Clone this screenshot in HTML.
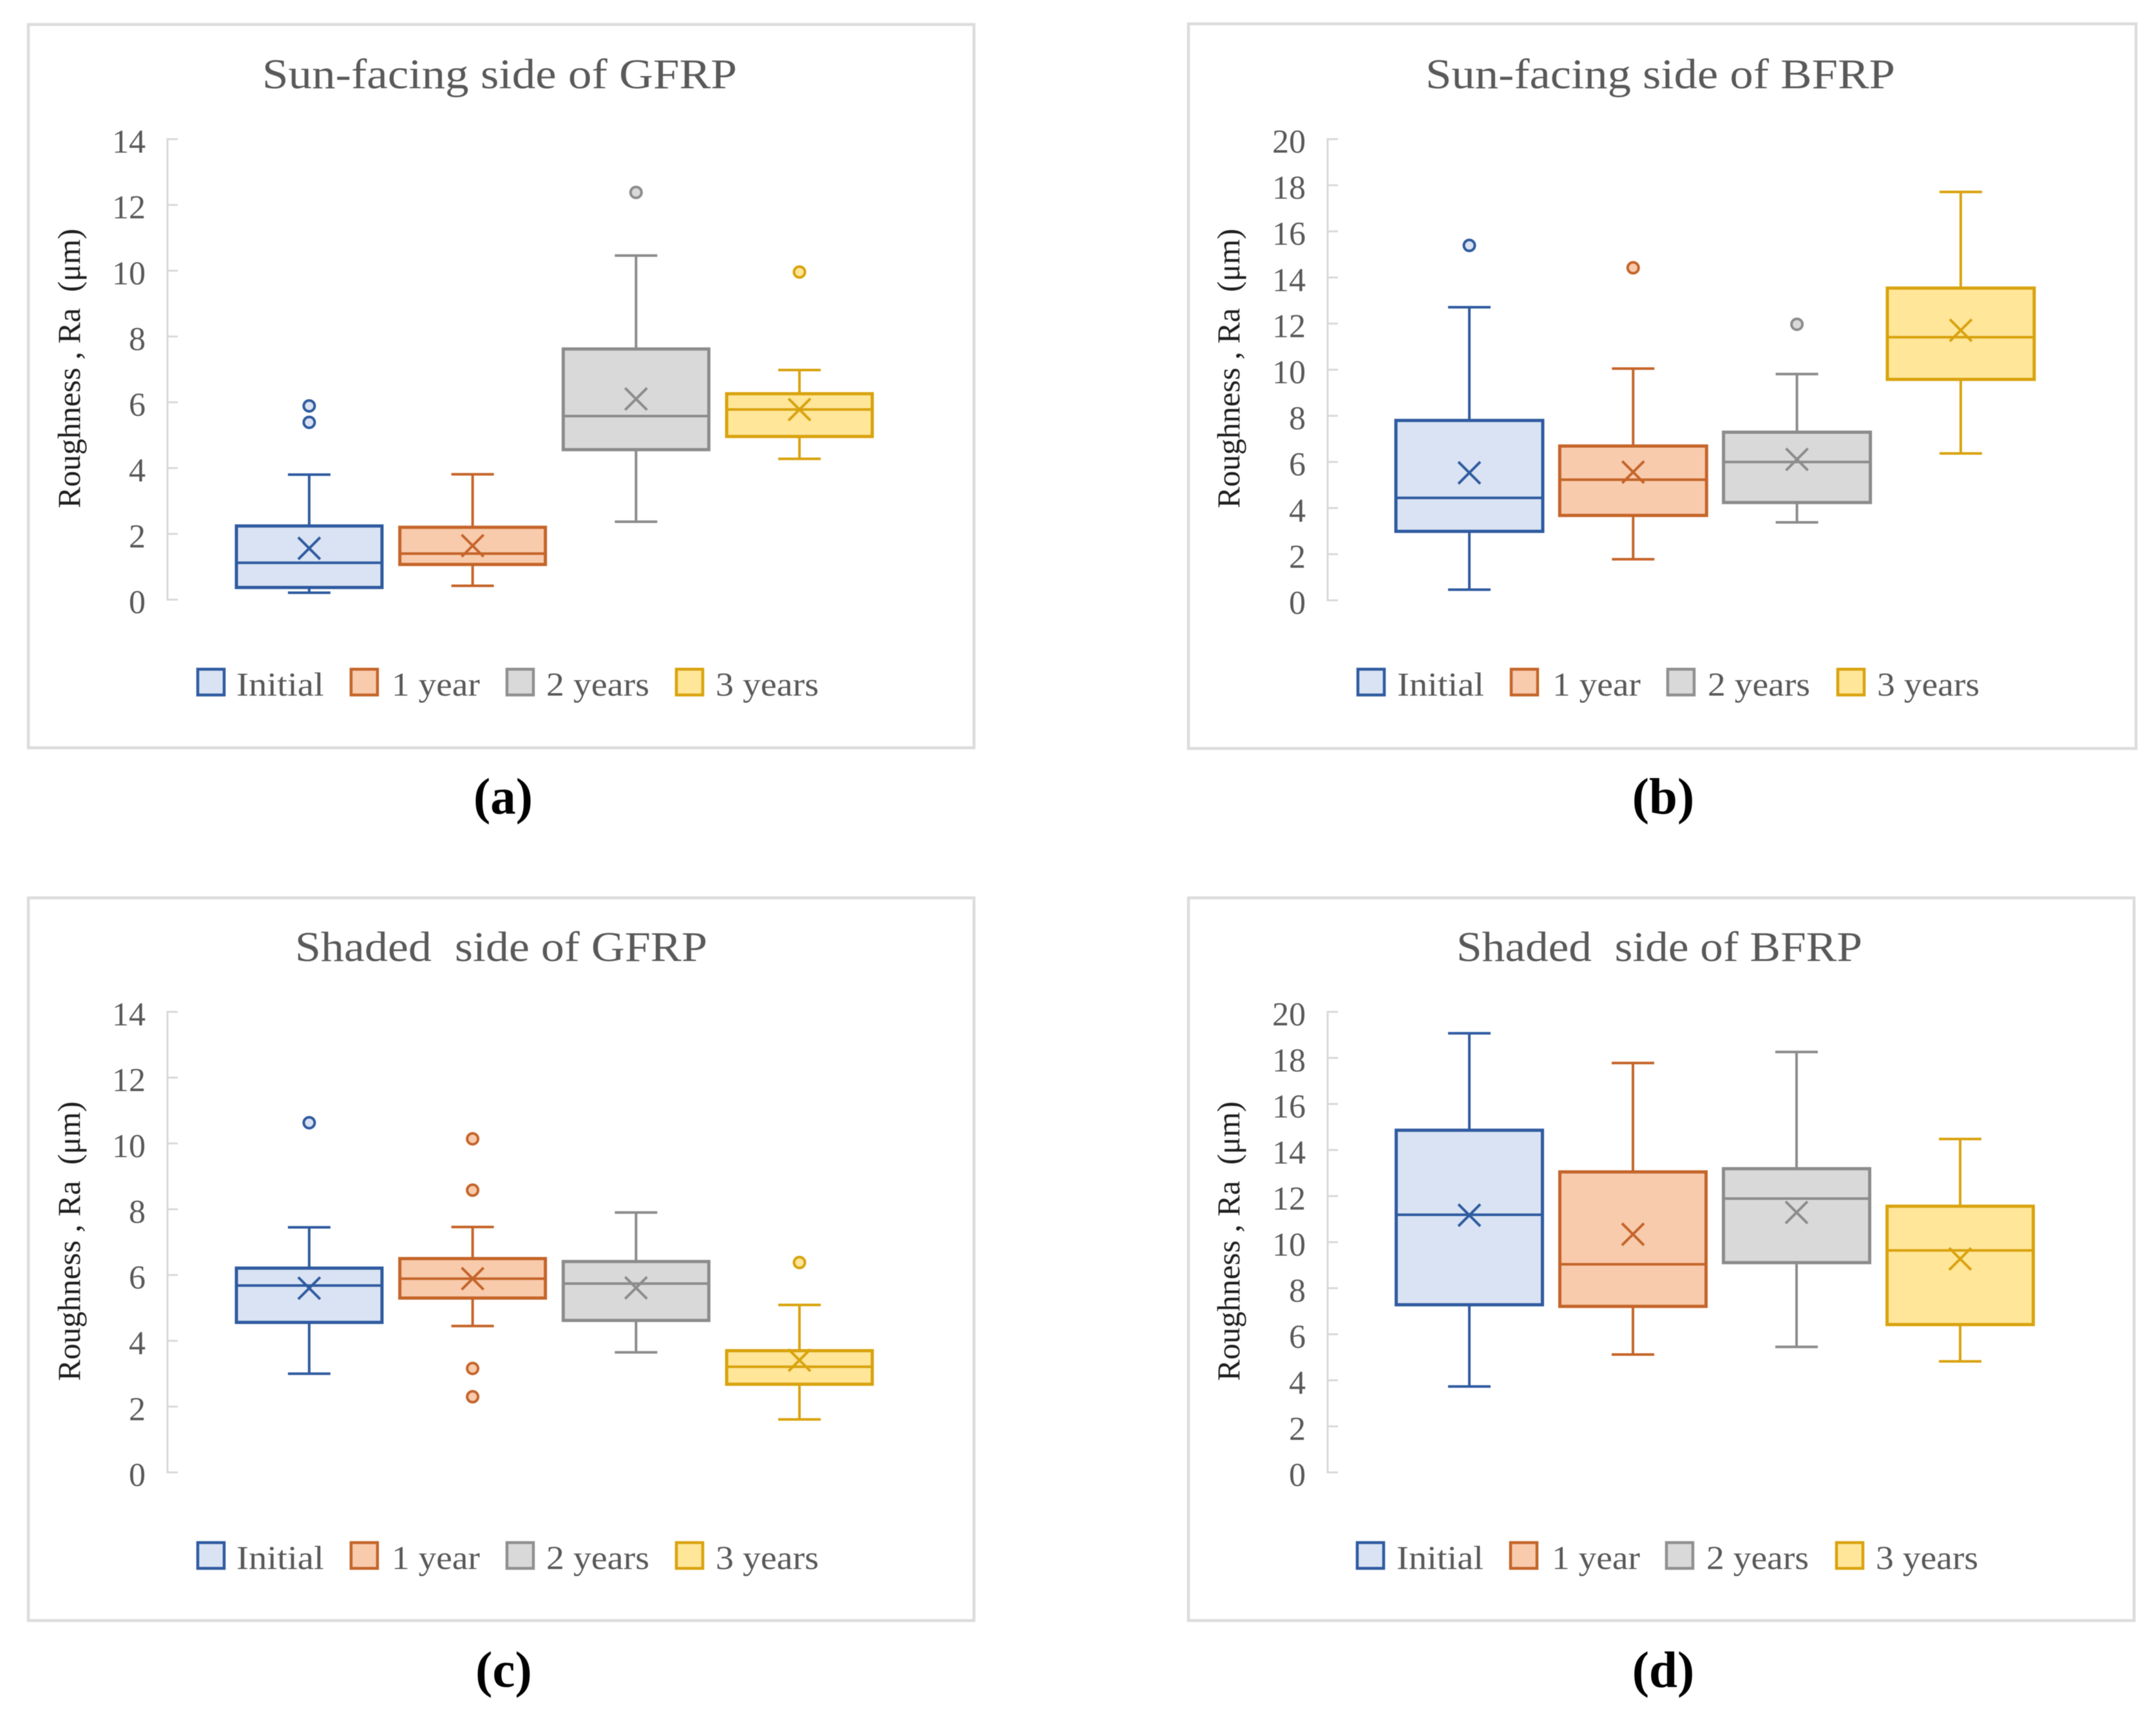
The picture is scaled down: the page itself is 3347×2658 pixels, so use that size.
<!DOCTYPE html>
<html lang="en">
<head>
<meta charset="utf-8">
<title>Surface roughness box plots of GFRP and BFRP</title>
<style>
html,body{margin:0;padding:0;background:#fff;}
svg{display:block;filter:blur(0.6px);}
text{font-family:"Liberation Serif",serif;white-space:pre;}
.title{font-size:66px;fill:#595959;}
.legend{font-size:52px;fill:#595959;}
.axis-title{font-size:50px;fill:#1f1f1f;}
.caption{font-size:79px;font-weight:bold;fill:#000;}
.frame{fill:#fff;stroke:#dcdcdc;stroke-width:4.5;}
.swatch{stroke-width:4.5;}
</style>
</head>
<body>
<svg id="figure" xmlns="http://www.w3.org/2000/svg" width="3347" height="2658" viewBox="0 0 3347 2658">
  <rect x="0" y="0" width="3347" height="2658" fill="#ffffff"/>

  <g id="panel-a">
    <rect class="frame" x="44" y="38" width="1468" height="1123"/>
    <text class="title" x="407" y="137" textLength="737" lengthAdjust="spacingAndGlyphs">Sun-facing side of GFRP</text>
    <text class="axis-title" transform="translate(124,789) rotate(-90)" textLength="434" lengthAdjust="spacingAndGlyphs">Roughness , Ra  (μm)</text>
    <g>
      <rect class="swatch" x="307" y="1039" width="41" height="40" fill="#dae3f3" stroke="#2f5ba0"/>
      <text class="legend" x="367" y="1080" textLength="136" lengthAdjust="spacingAndGlyphs">Initial</text>
      <rect class="swatch" x="545" y="1039" width="41" height="40" fill="#f8cbad" stroke="#c5652a"/>
      <text class="legend" x="608" y="1080" textLength="137" lengthAdjust="spacingAndGlyphs">1 year</text>
      <rect class="swatch" x="787" y="1039" width="41" height="40" fill="#d9d9d9" stroke="#909090"/>
      <text class="legend" x="848" y="1080" textLength="160" lengthAdjust="spacingAndGlyphs">2 years</text>
      <rect class="swatch" x="1050" y="1039" width="41" height="40" fill="#ffe699" stroke="#d9a30f"/>
      <text class="legend" x="1111" y="1080" textLength="160" lengthAdjust="spacingAndGlyphs">3 years</text>
    </g>
    <text class="caption" x="781" y="1263" text-anchor="middle">(a)</text>
  </g>

  <g id="panel-b">
    <rect class="frame" x="1845" y="37" width="1471" height="1125"/>
    <text class="title" x="2213" y="137" textLength="729" lengthAdjust="spacingAndGlyphs">Sun-facing side of BFRP</text>
    <text class="axis-title" transform="translate(1924,789) rotate(-90)" textLength="434" lengthAdjust="spacingAndGlyphs">Roughness , Ra  (μm)</text>
    <g>
      <rect class="swatch" x="2108" y="1039" width="41" height="40" fill="#dae3f3" stroke="#2f5ba0"/>
      <text class="legend" x="2169" y="1080" textLength="135" lengthAdjust="spacingAndGlyphs">Initial</text>
      <rect class="swatch" x="2346" y="1039" width="41" height="40" fill="#f8cbad" stroke="#c5652a"/>
      <text class="legend" x="2410" y="1080" textLength="137" lengthAdjust="spacingAndGlyphs">1 year</text>
      <rect class="swatch" x="2589" y="1039" width="41" height="40" fill="#d9d9d9" stroke="#909090"/>
      <text class="legend" x="2651" y="1080" textLength="159" lengthAdjust="spacingAndGlyphs">2 years</text>
      <rect class="swatch" x="2853" y="1039" width="41" height="40" fill="#ffe699" stroke="#d9a30f"/>
      <text class="legend" x="2914" y="1080" textLength="159" lengthAdjust="spacingAndGlyphs">3 years</text>
    </g>
    <text class="caption" x="2582" y="1263" text-anchor="middle">(b)</text>
  </g>

  <g id="panel-c">
    <rect class="frame" x="44" y="1394" width="1468" height="1122"/>
    <text class="title" x="458" y="1492" textLength="640" lengthAdjust="spacingAndGlyphs">Shaded  side of GFRP</text>
    <text class="axis-title" transform="translate(124,2144) rotate(-90)" textLength="434" lengthAdjust="spacingAndGlyphs">Roughness , Ra  (μm)</text>
    <g>
      <rect class="swatch" x="307" y="2395" width="41" height="40" fill="#dae3f3" stroke="#2f5ba0"/>
      <text class="legend" x="367" y="2436" textLength="136" lengthAdjust="spacingAndGlyphs">Initial</text>
      <rect class="swatch" x="545" y="2395" width="41" height="40" fill="#f8cbad" stroke="#c5652a"/>
      <text class="legend" x="608" y="2436" textLength="137" lengthAdjust="spacingAndGlyphs">1 year</text>
      <rect class="swatch" x="787" y="2395" width="41" height="40" fill="#d9d9d9" stroke="#909090"/>
      <text class="legend" x="848" y="2436" textLength="160" lengthAdjust="spacingAndGlyphs">2 years</text>
      <rect class="swatch" x="1050" y="2395" width="41" height="40" fill="#ffe699" stroke="#d9a30f"/>
      <text class="legend" x="1111" y="2436" textLength="160" lengthAdjust="spacingAndGlyphs">3 years</text>
    </g>
    <text class="caption" x="782" y="2619" text-anchor="middle">(c)</text>
  </g>

  <g id="panel-d">
    <rect class="frame" x="1845" y="1394" width="1468" height="1122"/>
    <text class="title" x="2261" y="1492" textLength="630" lengthAdjust="spacingAndGlyphs">Shaded  side of BFRP</text>
    <text class="axis-title" transform="translate(1924,2144) rotate(-90)" textLength="434" lengthAdjust="spacingAndGlyphs">Roughness , Ra  (μm)</text>
    <g>
      <rect class="swatch" x="2107" y="2395" width="41" height="40" fill="#dae3f3" stroke="#2f5ba0"/>
      <text class="legend" x="2168" y="2436" textLength="135" lengthAdjust="spacingAndGlyphs">Initial</text>
      <rect class="swatch" x="2345" y="2395" width="41" height="40" fill="#f8cbad" stroke="#c5652a"/>
      <text class="legend" x="2409" y="2436" textLength="137" lengthAdjust="spacingAndGlyphs">1 year</text>
      <rect class="swatch" x="2587" y="2395" width="41" height="40" fill="#d9d9d9" stroke="#909090"/>
      <text class="legend" x="2649" y="2436" textLength="159" lengthAdjust="spacingAndGlyphs">2 years</text>
      <rect class="swatch" x="2851" y="2395" width="41" height="40" fill="#ffe699" stroke="#d9a30f"/>
      <text class="legend" x="2912" y="2436" textLength="159" lengthAdjust="spacingAndGlyphs">3 years</text>
    </g>
    <text class="caption" x="2582" y="2619" text-anchor="middle">(d)</text>
  </g>
</svg>

<script>
const categories = ['Initial', '1 year', '2 years', '3 years'];
const gfrpTicks = ['0', '2', '4', '6', '8', '10', '12', '14'];
const bfrpTicks = ['0', '2', '4', '6', '8', '10', '12', '14', '16', '18', '20'];

const aWhiskerLow = [0.21, 0.42, 2.37, 4.28];
const aQ1 = [0.37, 1.07, 4.56, 4.96];
const aMedian = [1.12, 1.40, 5.58, 5.78];
const aMean = [1.56, 1.64, 6.10, 5.78];
const aQ3 = [2.24, 2.20, 7.62, 6.26];
const aWhiskerHigh = [3.80, 3.81, 10.46, 6.98];
const aOutliers = [[5.89, 5.39], [], [12.38], [9.96]];

const bWhiskerLow = [0.46, 1.78, 3.38, 6.37];
const bQ1 = [2.99, 3.68, 4.24, 9.58];
const bMedian = [4.44, 5.23, 6.00, 11.41];
const bMean = [5.53, 5.56, 6.11, 11.71];
const bQ3 = [7.80, 6.69, 7.29, 13.54];
const bWhiskerHigh = [12.71, 10.05, 9.81, 17.71];
const bOutliers = [[15.39], [14.42], [11.97], []];

const cWhiskerLow = [3.00, 4.45, 3.65, 1.61];
const cQ1 = [4.56, 5.30, 4.62, 2.68];
const cMedian = [5.68, 5.89, 5.74, 3.21];
const cMean = [5.60, 5.89, 5.61, 3.41];
const cQ3 = [6.21, 6.50, 6.41, 3.70];
const cWhiskerHigh = [7.45, 7.46, 7.90, 5.09];
const cOutliers = [[10.63], [10.14, 8.58, 3.16, 2.30], [], [6.38]];

const dWhiskerLow = [3.73, 5.12, 5.45, 4.82];
const dQ1 = [7.28, 7.21, 9.11, 6.42];
const dMedian = [11.19, 9.04, 11.89, 9.64];
const dMean = [11.17, 10.34, 11.29, 9.27];
const dQ3 = [14.86, 13.05, 13.19, 11.56];
const dWhiskerHigh = [19.07, 17.78, 18.26, 14.48];
const dOutliers = [[], [], [], []];

const strokeColors = ['#2f5ba0', '#c5652a', '#8c8c8c', '#d9a30f'];
const fillColors = ['#dae3f3', '#f8cbad', '#d9d9d9', '#ffe699'];
const SVG_NS = 'http://www.w3.org/2000/svg';

function make(tag, attrs, parent) {
  const el = document.createElementNS(SVG_NS, tag);
  for (const key in attrs) el.setAttribute(key, attrs[key]);
  parent.appendChild(el);
  return el;
}

function drawPanel(panelId, layout, ticks, stats) {
  const host = document.getElementById(panelId);
  const maxValue = Number(ticks[ticks.length - 1]);
  const yScale = v => layout.y0 - v * (layout.y0 - layout.yTop) / maxValue;
  const xScale = i => layout.x0 + i * layout.step;

  const axis = make('g', {}, host);
  
  
  const axisLine = make('line', {x1: layout.axisX, x2: layout.axisX, y1: yScale(maxValue) - 1.5, y2: yScale(0) + 1.5, stroke: '#d9d9d9', 'stroke-width': 3}, axis);
  
  
  ticks.forEach(label => {
    const v = Number(label);
    const tick = make('line', {x1: layout.axisX, x2: layout.axisX + 16, y1: yScale(v), y2: yScale(v), stroke: '#d9d9d9', 'stroke-width': 3}, axis);
    
    
    const text = make('text', {x: layout.labelX, y: yScale(v) + 21, 'text-anchor': 'end', 'font-size': 52, fill: '#595959'}, axis);
    
    
    text.textContent = label;
  });

  categories.forEach((category, i) => {
    const stroke = strokeColors[i];
    const fill = fillColors[i];
    const cx = xScale(i);
    const half = layout.boxWidth / 2;
    const cap = 33;
    const group = make('g', {fill: 'none', stroke: stroke, 'stroke-width': 4}, host);
    
    

    const whisker = make('line', {x1: cx, x2: cx, y1: yScale(stats.whiskerHigh[i]), y2: yScale(stats.whiskerLow[i])}, group);
    
    
    const capHigh = make('line', {x1: cx - cap, x2: cx + cap, y1: yScale(stats.whiskerHigh[i]), y2: yScale(stats.whiskerHigh[i])}, group);
    
    
    const capLow = make('line', {x1: cx - cap, x2: cx + cap, y1: yScale(stats.whiskerLow[i]), y2: yScale(stats.whiskerLow[i])}, group);
    
    

    const box = make('rect', {x: cx - half, y: yScale(stats.q3[i]), width: layout.boxWidth, height: yScale(stats.q1[i]) - yScale(stats.q3[i]), fill: fill, 'stroke-width': 5}, group);
    
    
    const median = make('line', {x1: cx - half, x2: cx + half, y1: yScale(stats.median[i]), y2: yScale(stats.median[i])}, group);
    
    

    const my = yScale(stats.mean[i]);
    const mean = make('path', {d: 'M' + (cx - 17) + ' ' + (my - 17) + 'L' + (cx + 17) + ' ' + (my + 17) + 'M' + (cx + 17) + ' ' + (my - 17) + 'L' + (cx - 17) + ' ' + (my + 17)}, group);
    
    

    stats.outliers[i].forEach(value => {
      const dot = make('circle', {cx: cx, cy: yScale(value), r: 8.5, fill: fill, 'stroke-width': 4}, group);
      
      
    });
  });
}

drawPanel('panel-a', {axisX: 260, labelX: 226, y0: 931, yTop: 216, x0: 480, step: 253.7, boxWidth: 226}, gfrpTicks,
  {whiskerLow: aWhiskerLow, q1: aQ1, median: aMedian, mean: aMean, q3: aQ3, whiskerHigh: aWhiskerHigh, outliers: aOutliers});
drawPanel('panel-b', {axisX: 2061, labelX: 2027, y0: 932, yTop: 216, x0: 2281, step: 254.3, boxWidth: 228}, bfrpTicks,
  {whiskerLow: bWhiskerLow, q1: bQ1, median: bMedian, mean: bMean, q3: bQ3, whiskerHigh: bWhiskerHigh, outliers: bOutliers});
drawPanel('panel-c', {axisX: 260, labelX: 226, y0: 2286, yTop: 1571, x0: 480, step: 253.7, boxWidth: 226}, gfrpTicks,
  {whiskerLow: cWhiskerLow, q1: cQ1, median: cMedian, mean: cMean, q3: cQ3, whiskerHigh: cWhiskerHigh, outliers: cOutliers});
drawPanel('panel-d', {axisX: 2061, labelX: 2027, y0: 2286, yTop: 1571, x0: 2281, step: 254, boxWidth: 227}, bfrpTicks,
  {whiskerLow: dWhiskerLow, q1: dQ1, median: dMedian, mean: dMean, q3: dQ3, whiskerHigh: dWhiskerHigh, outliers: dOutliers});
</script>
</body>
</html>
